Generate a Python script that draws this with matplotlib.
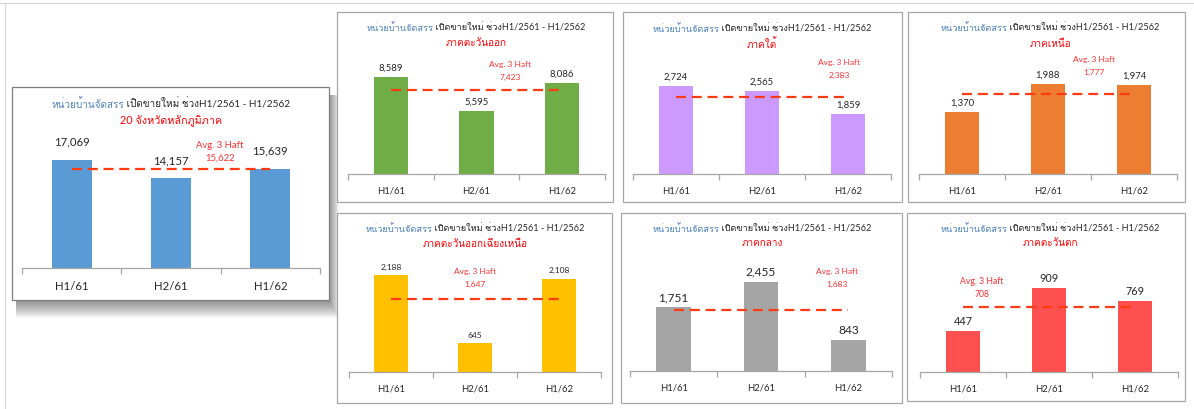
import matplotlib
matplotlib.use("Agg")
import matplotlib.pyplot as plt
from matplotlib.patches import Rectangle
from matplotlib.lines import Line2D

# ---- data -------------------------------------------------------------
periods = ["H1/61", "H2/61", "H1/62"]
title_blue = "หน่วยบ้านจัดสรร"
title_black = " เปิดขายใหม่ ช่วงH1/2561 - H1/2562"
avg_caption = "Avg. 3 Haft"

regions = ["20 จังหวัดหลักภูมิภาค", "ภาคตะวันออก", "ภาคใต้", "ภาคเหนือ",
           "ภาคตะวันออกเฉียงเหนือ", "ภาคกลาง", "ภาคตะวันตก"]
units_all = [17069, 14157, 15639]
units_east = [8589, 5595, 8086]
units_south = [2724, 2565, 1859]
units_north = [1370, 1988, 1974]
units_northeast = [2188, 645, 2108]
units_central = [1751, 2455, 843]
units_west = [447, 909, 769]
avg_all = 15622
avg_east = 7423
avg_south = 2383
avg_north = 1777
avg_northeast = 1647
avg_central = 1683
avg_west = 708

series = [units_all, units_east, units_south, units_north,
          units_northeast, units_central, units_west]
averages = [avg_all, avg_east, avg_south, avg_north,
            avg_northeast, avg_central, avg_west]

# ---- layout / style ---------------------------------------------------
W, H = 1194, 409
colors = ["#5B9BD5", "#70AD47", "#CC99FF", "#ED7D31",
          "#FFC000", "#A5A5A5", "#FF5050"]
# panel frames (x0, y0, x1, y1) in pixels, top-left origin
frames = [(12, 87, 329, 300), (337, 12, 613, 202), (623, 12, 902, 202),
          (908, 12, 1185, 202), (337, 213, 612, 403), (621, 213, 902, 403),
          (907, 213, 1185, 401)]
# plot areas (x0, ytop, x1, ybase)
areas = [(22, 140, 320, 268), (348, 50, 605, 174), (633, 50, 891, 174),
         (919, 50, 1177, 174), (349, 250, 601, 372), (630, 250, 892, 371),
         (920, 250, 1178, 372)]
ytops = [20230, 10980, 3838, 2739, 2752, 3328, 1320]
title_pos = [(171, 104, 121), (476, 28, 43), (762, 29, 44), (1050, 28, 44),
             (475, 229, 244), (762, 229, 244), (1050, 229, 243)]
title_size = [7.2, 6.6, 6.6, 6.6, 6.6, 6.6, 6.6]
value_size = [8.2, 6.8, 6.8, 6.8, 6.0, 8.6, 7.8]
value_gap = [9, 3, 3, 3, 3, 3, 3]
note_size = [6.8, 6.0, 6.0, 6.0, 6.0, 6.0, 6.2]
cat_size = [8.2, 6.8, 6.8, 6.8, 6.8, 6.8, 6.8]
# average note placement: (category x, axes-fraction y of caption)
note_pos = [(1.49, 0.96), (1.39, 0.88), (1.9, 0.90), (1.53, 0.92),
            (1.0, 0.82), (1.87, 0.82), (0.22, 0.74)]

FONT = ["Lato", "Loma", "DejaVu Sans"]
plt.rcParams["font.family"] = FONT

fig = plt.figure(figsize=(W / 100, H / 100), dpi=100)
fig.patch.set_facecolor("white")


def fx(x):
    return x / W


def fy(y):
    return 1 - y / H


# faint page edges
fig.add_artist(Line2D([0, 1], [fy(3), fy(3)], color="#D0D0D0", lw=0.8))
fig.add_artist(Line2D([fx(5), fx(5)], [0, fy(3)], color="#D8D8D8", lw=0.8))

# soft drop shadow behind the summary panel
x0, y0, x1, y1 = frames[0]
for k in range(1, 19):
    dx, dy = 0.55 * k, k
    fig.add_artist(Rectangle((fx(x0 + 4), fy(y1 + dy)), fx(x1 - x0 + dx - 4),
                             (y1 - y0 + dy - 8) / H, facecolor="#000000",
                             alpha=0.028, edgecolor="none", zorder=0))

for i, (x0, y0, x1, y1) in enumerate(frames):
    ec = "#7F7F7F" if i == 0 else "#A6A6A6"
    fig.add_artist(Rectangle((fx(x0), fy(y1)), fx(x1 - x0), (y1 - y0) / H,
                             facecolor="white", edgecolor=ec, lw=0.9, zorder=1))

renderer = fig.canvas.get_renderer()

for i, vals in enumerate(series):
    ax0, at, ax1, ab = areas[i]
    ax = fig.add_axes([fx(ax0), fy(ab), fx(ax1 - ax0), (ab - at) / H])
    ax.set_zorder(2)
    ax.patch.set_alpha(0)
    xs = list(range(len(periods)))
    bars = ax.bar(xs, vals, width=0.4, color=colors[i], zorder=2)
    ax.set_xlim(-0.5, 2.5)
    ax.set_ylim(0, ytops[i])
    for s in ["top", "right", "left"]:
        ax.spines[s].set_visible(False)
    ax.spines["bottom"].set_color("#A6A6A6")
    ax.spines["bottom"].set_linewidth(0.9)
    ax.set_yticks([])
    ax.set_xticks(xs)
    ax.set_xticklabels(periods, fontsize=cat_size[i], color="#262626")
    ax.tick_params(axis="x", length=0, pad=9)
    ax.set_xticks([-0.5, 0.5, 1.5, 2.5], minor=True)
    ax.tick_params(axis="x", which="minor", length=4, color="#A6A6A6", width=0.9)
    for b, v in zip(bars, vals):
        ax.annotate(f"{v:,}", (b.get_x() + b.get_width() / 2, v),
                    xytext=(0, value_gap[i]), textcoords="offset points",
                    ha="center", va="bottom", fontsize=value_size[i],
                    color="#262626")
    # average line between the first and last bar centres
    ax.plot([xs[0], xs[-1]], [averages[i], averages[i]], color="#FF3B14",
            lw=1.6, dashes=(4.5, 2.6), zorder=3)
    nx, ny = note_pos[i]
    ax.text(nx, ny, avg_caption, transform=ax.get_xaxis_transform(),
            ha="center", va="center", fontsize=note_size[i], color="#FF3030")
    ax.text(nx, ny - 13 / (ab - at), f"{averages[i]:,}",
            transform=ax.get_xaxis_transform(), ha="center", va="center",
            fontsize=note_size[i], color="#FF3030")

    # two-colour title
    cx, ty, sy = title_pos[i]
    tb = fig.text(0, fy(ty), title_blue, fontsize=title_size[i],
                  color="#4F81BD", va="center", ha="left", zorder=5)
    tk = fig.text(0, fy(ty), title_black, fontsize=title_size[i],
                  color="#262626", va="center", ha="left", zorder=5)
    wb = tb.get_window_extent(renderer).width
    wk = tk.get_window_extent(renderer).width
    left = cx - (wb + wk) / 2
    tb.set_x(fx(left))
    tk.set_x(fx(left + wb))
    fig.text(fx(cx), fy(sy), regions[i], fontsize=title_size[i] + 0.6,
             color="#FF0000", ha="center", va="center", zorder=5)

fig.savefig("out.png", dpi=100)
